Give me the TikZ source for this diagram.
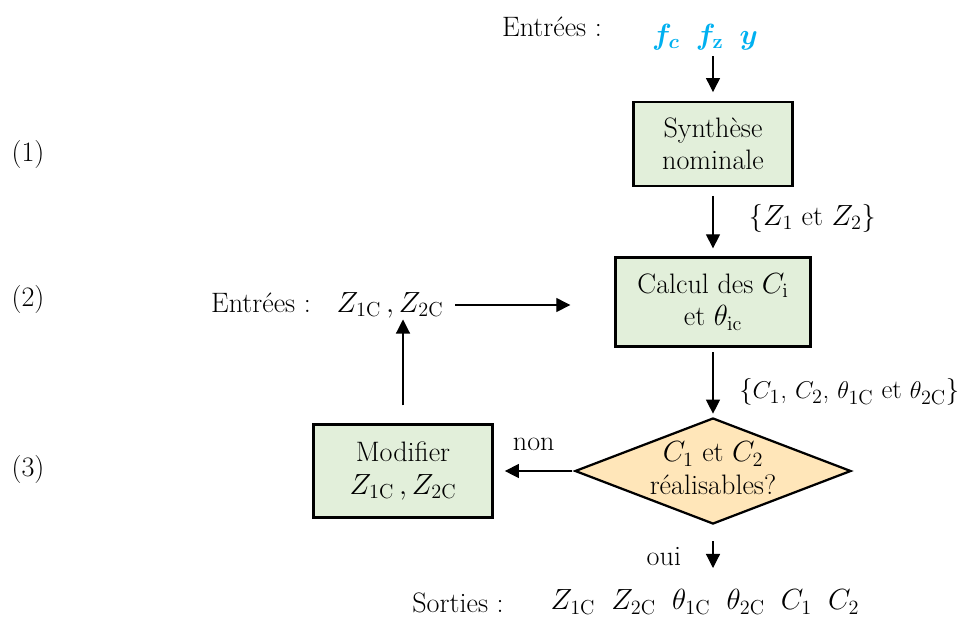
\documentclass[tikz,border=0pt]{standalone}
\usepackage{amsmath,bm}
\usepackage{tikz}
\usetikzlibrary{arrows.meta,shapes.geometric,positioning}
\definecolor{boxgreen}{RGB}{226,239,218}
\definecolor{boxorange}{RGB}{255,230,185}
\definecolor{inblue}{RGB}{0,176,240}

\begin{document}
\begin{tikzpicture}[>={Triangle[length=10pt,width=10pt]}, x=0.025cm, y=-0.025cm,
    font=\fontsize{20}{23}\selectfont,
    box/.style={draw, line width=1.6pt, fill=boxgreen, align=center, inner sep=0pt},
    arr/.style={->, line width=0.8pt},
    txt/.style={inner sep=1pt}]
    \useasboundingbox (0,0) rectangle (967,621);

    % Step numbers
    \node[txt] (s1) at (28,154) {(1)};
    \node[txt] (s2) at (28,299) {(2)};
    \node[txt] (s3) at (28,469) {(3)};

    % (1) Synthese
    \node[txt] (inA) at (552,27) {Entrées :};
    \node[txt, text=inblue] (fv) at (705,37) {$\bm{f_c}\;\;\bm{f_{\mathrm{z}}}\;\;\bm{y}$};
    \node[box, minimum width=3.975cm, minimum height=2.1cm] (synth) at (713,144) {Synthèse\\nominale};

    % (2) Calcul
    \node[box, minimum width=4.875cm, minimum height=2.225cm] (calc) at (713,302) {Calcul des $C_{\mathrm{i}}$\\et $\theta_{\mathrm{ic}}$};
    \node[txt] (inB) at (261,303) {Entrées :};
    \node[txt] (zc) at (390,305) {$Z_{1\mathrm{C}}\,,Z_{2\mathrm{C}}$};

    % (3) Test
    \node[draw, diamond, line width=1.6pt, fill=boxorange, minimum width=6.9cm, minimum height=2.65cm, inner sep=0pt] (dec) at (713,471) {};
    \node[txt, align=center] (dectxt) at (713,468) {$C_1$ et $C_2$\\réalisables?};
    \node[box, minimum width=4.475cm, minimum height=2.325cm] (mod) at (403,471) {Modifier\\$Z_{1\mathrm{C}}\,,Z_{2\mathrm{C}}$};

    % Sorties
    \node[txt] (outA) at (458,603) {Sorties :};
    \node[txt] (outv) at (705,602) {$Z_{1\mathrm{C}}\;\;Z_{2\mathrm{C}}\;\;\theta_{1\mathrm{C}}\;\;\theta_{2\mathrm{C}}\;\;C_1\;\;C_2$};

    % Arrows
    \draw[arr, shorten <=0.12cm, shorten >=0.22cm] (fv.south -| synth.north) -- (synth.north);
    \draw[arr, shorten <=0.22cm, shorten >=0.2cm] (synth) -- (calc)
        node[txt, pos=0.45, right=0.85cm] (l1) {\{$Z_1$ et $Z_2$\}};
    \draw[arr, shorten <=0.12cm, shorten >=0.08cm] (calc) -- (dec);
    \node[txt, anchor=east, font=\fontsize{19}{22}\selectfont] (l2) at (961,392) {\{$C_1$, $C_2$, $\theta_{1\mathrm{C}}$ et $\theta_{2\mathrm{C}}$\}};
    \draw[arr, shorten <=0.05cm, shorten >=0.28cm] (dec.west) -- (mod.east)
        node[txt, midway, above=0.45cm] (lnon) {non};
    \draw[arr, shorten <=0.45cm] (mod.north) -- (zc.south -| mod.north);
    \draw[arr, shorten <=0.25cm, shorten >=1.1cm] (zc.east) -- (calc.west |- zc.east);
    \draw[arr, shorten <=0.4cm, shorten >=0.5cm] (dec.south) -- (outv.north -| dec.south)
        node[txt, midway, left=0.75cm] (loui) {oui};
\end{tikzpicture}
\end{document}
